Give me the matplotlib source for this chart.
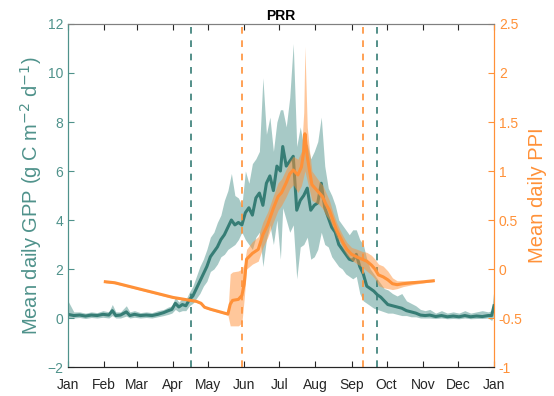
import matplotlib.pyplot as plt
import numpy as np

plt.rcParams['font.family'] = ['Liberation Sans', 'DejaVu Sans']

# day of year and mean daily GPP with its shaded range
gpp_day = [0, 5, 10, 15, 20, 25, 30, 35, 38, 41, 45, 50, 53, 57, 62, 67, 72, 77, 82, 86,
           89, 92, 95, 98, 101, 104, 107, 110, 113, 116, 119, 122, 125, 128, 131, 134, 137, 140,
           143, 146, 149, 152, 155, 158, 161, 164, 167, 170, 173, 176, 179, 182, 184, 187, 190,
           193, 196, 199, 202, 205, 208, 211, 214, 217, 220, 223, 226, 229, 232, 235, 238, 241,
           244, 247, 250, 253, 256, 259, 262, 265, 268, 271, 274, 278, 282, 286, 290, 294, 298,
           302, 306, 310, 315, 320, 325, 330, 335, 340, 345, 350, 355, 360, 363, 365]
gpp_mean = [0.15, 0.10, 0.12, 0.08, 0.12, 0.10, 0.15, 0.12, 0.30, 0.10, 0.12, 0.25, 0.10, 0.15,
            0.10, 0.12, 0.10, 0.15, 0.22, 0.30, 0.35, 0.60, 0.45, 0.55, 0.50, 0.75, 0.90, 1.20,
            1.50, 1.80, 2.10, 2.50, 2.70, 2.90, 3.20, 3.40, 3.70, 4.00, 3.80, 3.90, 3.80, 4.30,
            4.50, 4.20, 4.90, 5.10, 4.60, 5.50, 5.80, 5.20, 6.20, 6.00, 7.00, 6.20, 6.40, 6.60,
            4.40, 4.80, 5.00, 5.30, 4.40, 4.60, 4.70, 5.50, 4.50, 4.10, 3.70, 3.50, 3.00, 2.80,
            2.60, 2.40, 2.35, 2.60, 2.10, 1.80, 1.30, 1.20, 1.10, 0.95, 0.85, 0.70, 0.55, 0.50,
            0.45, 0.40, 0.30, 0.25, 0.20, 0.12, 0.10, 0.12, 0.06, 0.10, 0.05, 0.08, 0.05, 0.10,
            0.05, 0.08, 0.06, 0.10, 0.10, 0.50]
gpp_lo = [0.00, 0.00, 0.02, -0.02, 0.02, 0.00, 0.03, 0.00, 0.10, 0.00, 0.00, 0.08, 0.00, 0.03,
          0.00, 0.02, 0.00, 0.05, 0.10, 0.15, 0.20, 0.35, 0.25, 0.30, 0.30, 0.50, 0.60, 0.80,
          1.00, 1.30, 1.50, 1.90, 2.00, 2.20, 2.50, 2.60, 2.80, 2.90, 3.00, 3.20, 3.50, 3.20,
          3.00, 2.80, 3.30, 3.50, 2.10, 3.20, 3.80, 3.00, 4.00, 2.40, 4.50, 4.00, 3.50, 3.80,
          1.60, 2.90, 3.00, 3.30, 2.40, 2.50, 2.80, 3.50, 3.00, 2.90, 2.50, 2.30, 2.10, 2.00,
          1.80, 1.70, 1.60, 1.70, 1.00, 0.70, 0.60, 0.50, 0.40, 0.35, 0.30, 0.25, 0.20, 0.20,
          0.15, 0.10, 0.10, 0.05, 0.05, 0.00, 0.00, 0.00, -0.02, 0.00, -0.03, -0.02, -0.03, 0.00,
          -0.03, -0.02, -0.02, 0.00, -0.10, 0.10]
gpp_hi = [0.70, 0.25, 0.25, 0.20, 0.25, 0.22, 0.30, 0.25, 0.55, 0.25, 0.25, 0.50, 0.25, 0.30,
          0.22, 0.25, 0.22, 0.30, 0.35, 0.45, 0.50, 0.85, 0.65, 0.80, 0.75, 1.05, 1.30, 1.70,
          2.10, 2.40, 2.80, 3.30, 3.50, 3.90, 4.20, 4.80, 5.20, 5.90, 5.00, 4.90, 4.60, 6.00,
          5.50, 6.30, 6.50, 6.80, 9.80, 7.50, 8.20, 6.80, 8.00, 8.50, 8.50, 7.80, 9.00, 11.20,
          7.00, 7.80, 7.00, 7.10, 6.50, 6.80, 7.20, 8.20, 6.20, 5.30, 5.00, 4.60, 4.00, 3.80,
          3.60, 3.40, 3.60, 3.60, 3.20, 3.00, 2.40, 2.00, 1.80, 1.60, 1.40, 1.20, 1.15, 1.00,
          0.90, 1.00, 0.70, 0.60, 0.50, 0.35, 0.30, 0.35, 0.20, 0.30, 0.20, 0.25, 0.20, 0.30,
          0.20, 0.25, 0.30, 0.25, 0.30, 1.20]

# day of year and mean daily PPI with its shaded range
ppi_day = [32, 40, 50, 60, 70, 80, 90, 100, 105, 110, 114, 117, 122, 128, 134, 137, 139, 141,
           146, 149, 151, 153, 158, 163, 167, 171, 176, 180, 183, 187, 190, 193, 197, 200, 202,
           203, 205, 207, 209, 212, 215, 218, 221, 224, 227, 230, 233, 236, 239, 243, 248, 252,
           256, 260, 263, 266, 270, 274, 278, 282, 287, 295, 305, 313]
ppi_mean = [-0.13, -0.14, -0.17, -0.20, -0.23, -0.26, -0.29, -0.31, -0.32, -0.33, -0.35, -0.39,
            -0.41, -0.43, -0.45, -0.46, -0.36, -0.32, -0.31, -0.27, -0.15, 0.10, 0.16, 0.20,
            0.35, 0.45, 0.62, 0.74, 0.78, 0.88, 0.97, 1.01, 0.96, 1.04, 1.20, 1.38, 1.15, 1.00,
            0.86, 0.82, 0.78, 0.74, 0.66, 0.60, 0.50, 0.40, 0.33, 0.26, 0.20, 0.15, 0.12, 0.10,
            0.08, 0.04, 0.00, -0.06, -0.08, -0.11, -0.15, -0.16, -0.15, -0.14, -0.13, -0.12]
ppi_lo = [-0.14, -0.15, -0.18, -0.21, -0.24, -0.27, -0.30, -0.32, -0.33, -0.34, -0.36, -0.40,
          -0.42, -0.44, -0.46, -0.47, -0.58, -0.58, -0.58, -0.55, -0.30, 0.00, 0.05, 0.08,
          0.22, 0.32, 0.48, 0.60, 0.65, 0.74, 0.82, 0.86, 0.78, 0.85, 0.95, 1.00, 0.90, 0.80,
          0.70, 0.68, 0.66, 0.62, 0.55, 0.50, 0.42, 0.33, 0.27, 0.20, 0.14, 0.09, 0.05, 0.02,
          -0.02, -0.06, -0.10, -0.17, -0.19, -0.20, -0.21, -0.20, -0.18, -0.16, -0.14, -0.13]
ppi_hi = [-0.12, -0.13, -0.16, -0.19, -0.22, -0.25, -0.28, -0.30, -0.31, -0.32, -0.34, -0.38,
          -0.40, -0.42, -0.44, -0.45, -0.05, -0.03, -0.02, 0.00, 0.05, 0.20, 0.28, 0.33,
          0.48, 0.58, 0.75, 0.88, 0.92, 1.02, 1.10, 1.15, 1.12, 1.20, 1.60, 2.27, 1.45, 1.20,
          1.00, 0.95, 0.90, 0.86, 0.78, 0.70, 0.58, 0.48, 0.40, 0.33, 0.27, 0.22, 0.20, 0.18,
          0.17, 0.14, 0.10, 0.05, 0.03, -0.02, -0.09, -0.12, -0.12, -0.12, -0.12, -0.11]

gpp_dates = [105, 265]   # start / end of season, GPP
ppi_dates = [149, 253]   # start / end of season, PPI

month_days = [0, 31, 59, 90, 120, 151, 181, 212, 243, 273, 304, 334, 365]
month_labels = ['Jan', 'Feb', 'Mar', 'Apr', 'May', 'Jun', 'Jul', 'Aug', 'Sep', 'Oct',
                'Nov', 'Dec', 'Jan']

teal_line = '#367d75'
teal_fill = '#5f9e97'
teal_text = '#4f928b'
orange = '#ff9138'

fig = plt.figure(figsize=(5.54, 3.96), dpi=100)
ax = fig.add_axes([0.1227, 0.0732, 0.769, 0.8662])
ax2 = ax.twinx()

ax.fill_between(gpp_day, gpp_lo, gpp_hi, color=teal_fill, alpha=0.55, linewidth=0)
ax.plot(gpp_day, gpp_mean, color=teal_line, linewidth=2.2)
for d in gpp_dates:
    ax.axvline(d, color=teal_line, linestyle=(0, (4, 4)), linewidth=1.2)

ax2.fill_between(ppi_day, ppi_lo, ppi_hi, color=orange, alpha=0.5, linewidth=0)
ax2.plot(ppi_day, ppi_mean, color=orange, linewidth=2.2)
for d in ppi_dates:
    ax2.axvline(d, color=orange, linestyle=(0, (4, 4)), linewidth=1.2)

ax.set_xlim(0, 365)
ax.set_ylim(-2, 12)
ax2.set_ylim(-1, 2.5)
ax.set_xticks(month_days)
ax.set_xticklabels(month_labels)
ax.set_yticks(np.arange(-2, 13, 2))
ax2.set_yticks([-1, -0.5, 0, 0.5, 1, 1.5, 2, 2.5])
ax2.set_yticklabels(['-1', '-0.5', '0', '0.5', '1', '1.5', '2', '2.5'])

ax.tick_params(axis='x', direction='in', top=True, length=4, pad=8, labelsize=10,
               colors='#262626')
ax.tick_params(axis='y', direction='in', length=4, labelsize=10, colors=teal_text)
ax2.tick_params(axis='y', direction='in', length=4, labelsize=10, colors=orange)

for a in (ax, ax2):
    a.spines['left'].set_color(teal_text)
    a.spines['right'].set_color(orange)
    a.spines['top'].set_color('#808080')
    a.spines['bottom'].set_color('#262626')
    for s in a.spines.values():
        s.set_linewidth(0.8)

ax.set_ylabel('Mean daily GPP (g C m$^{-2}$ d$^{-1}$)', color=teal_text, fontsize=14.5,
              labelpad=2)
ax2.set_ylabel('Mean daily PPI', color=orange, fontsize=14.5, labelpad=4)
ax.set_title('PRR', fontsize=10, fontweight='bold', pad=3)

fig.savefig('out.png', dpi=100)
